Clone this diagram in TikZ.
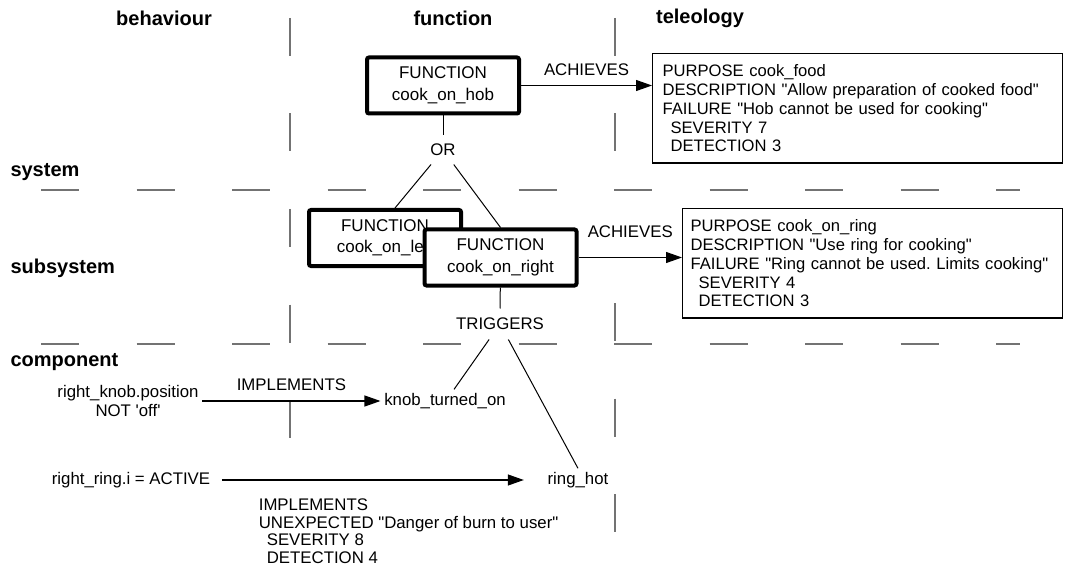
\documentclass[tikz,border=0pt]{standalone}
\usepackage{fontspec}
\setmainfont{Liberation Sans}
\usetikzlibrary{arrows.meta}

\tikzset{
	fnbox/.style={draw, line width=4pt, rounded corners=2pt, fill=white, minimum width=152pt, minimum height=56pt, align=center, font=\fontsize{17}{21.5}\selectfont},
	telbox/.style={draw, line width=1.2pt, anchor=north west, align=left, inner ysep=11pt, font=\fontsize{16.6}{18.8}\selectfont\frenchspacing},
	hdr/.style={font=\fontsize{20}{22}\selectfont\bfseries, inner sep=2pt},
	gridline/.style={line width=1.1pt, black!55, dash pattern=on 38pt off 57.5pt},
	arr/.style={line width=1.2pt, -{Triangle[length=16pt, width=11pt]}}
}
\newcommand{\qq}{\textquotedbl}

\begin{document}
\begin{tikzpicture}[x=1pt, y=-1pt, line width=1pt, font=\fontsize{16.8}{19}\selectfont]
				\useasboundingbox (0, 0) rectangle (1072, 567);
				% titles
				\node[hdr] (beh) at (164, 18) {behaviour};
				\node[hdr] (fun) at (453, 18) {function};
				\node[hdr] (tel) at (700, 18) {teleology};
				\node[hdr, anchor=west] (sys) at (8, 172) {system};
				\node[hdr, anchor=west] (sub) at (8, 268) {subsystem};
				\node[hdr, anchor=west] (comp) at (8, 362) {component};
				% dashed grid
				\draw[gridline] (41, 190) -- (1020, 190);
				\draw[gridline] (41, 344) -- (1020, 344);
				\draw[gridline] (290, 18) -- (290, 567);
				\draw[gridline] (615, 18) -- (615, 160);
				\draw[gridline] (615, 303) -- (615, 567);
				% functions
				\node[fnbox] (hob) at (443, 85.5) {FUNCTION\\cook\_on\_hob};
				\node[fnbox] (left) at (385, 238) {FUNCTION\\cook\_on\_left};
				\node[fnbox] (right) at (500.5, 257.5) {FUNCTION\\cook\_on\_right};
				\node[minimum height=28pt] (or) at (443, 150) {OR};
				\node[minimum height=30pt] (trig) at (500, 324) {TRIGGERS};
				% teleology
				\node[telbox, inner xsep=10pt, text width=390pt] (pur1) at (652, 53) {PURPOSE cook\_food\\DESCRIPTION \qq Allow preparation of cooked food\qq\\FAILURE \qq Hob cannot be used for cooking\qq\\\hspace*{8pt}SEVERITY 7\\\hspace*{8pt}DETECTION 3};
				\node[telbox, inner xsep=8pt, text width=364pt] (pur2) at (682, 208) {PURPOSE cook\_on\_ring\\DESCRIPTION \qq Use ring for cooking\qq\\FAILURE \qq Ring cannot be used. Limits cooking\qq\\\hspace*{8pt}SEVERITY 4\\\hspace*{8pt}DETECTION 3};
				\draw[arr] (hob.east) -- node[above=6pt] (ach1) {ACHIEVES} (hob.east -| pur1.west);
				\draw[arr] (right.east) -- node[above=16pt] (ach2) {ACHIEVES} (right.east -| pur2.west);
				% components
				\node[align=center] (rk) at (128, 401) {right\_knob.position\\NOT \textquotesingle off\textquotesingle};
				\node (knob) at (445, 401) {knob\_turned\_on};
				\node (rr) at (131, 480) {right\_ring.i = ACTIVE};
				\node (ring) at (578, 480) {ring\_hot};
				\draw[arr] (rk) -- node[above=6pt] (imp1) {IMPLEMENTS} (knob);
				\draw[arr, shorten <=8pt, shorten >=20pt] (rr) -- (ring);
				\node[anchor=north west, align=left, fill=white, font=\fontsize{16.8}{17.5}\selectfont] (unexp) at (255, 495) {IMPLEMENTS\\UNEXPECTED \qq Danger of burn to user\qq\\\hspace*{8pt}SEVERITY 8\\\hspace*{8pt}DETECTION 4};
				% links
				\path (hob) edge (or);
				\path (or) edge ([xshift=10pt]left.north) edge (right.north);
				\path (right) edge (trig);
				\path (trig) edge ([xshift=9pt]knob.north) edge (ring.north);
			\end{tikzpicture}
\end{document}
